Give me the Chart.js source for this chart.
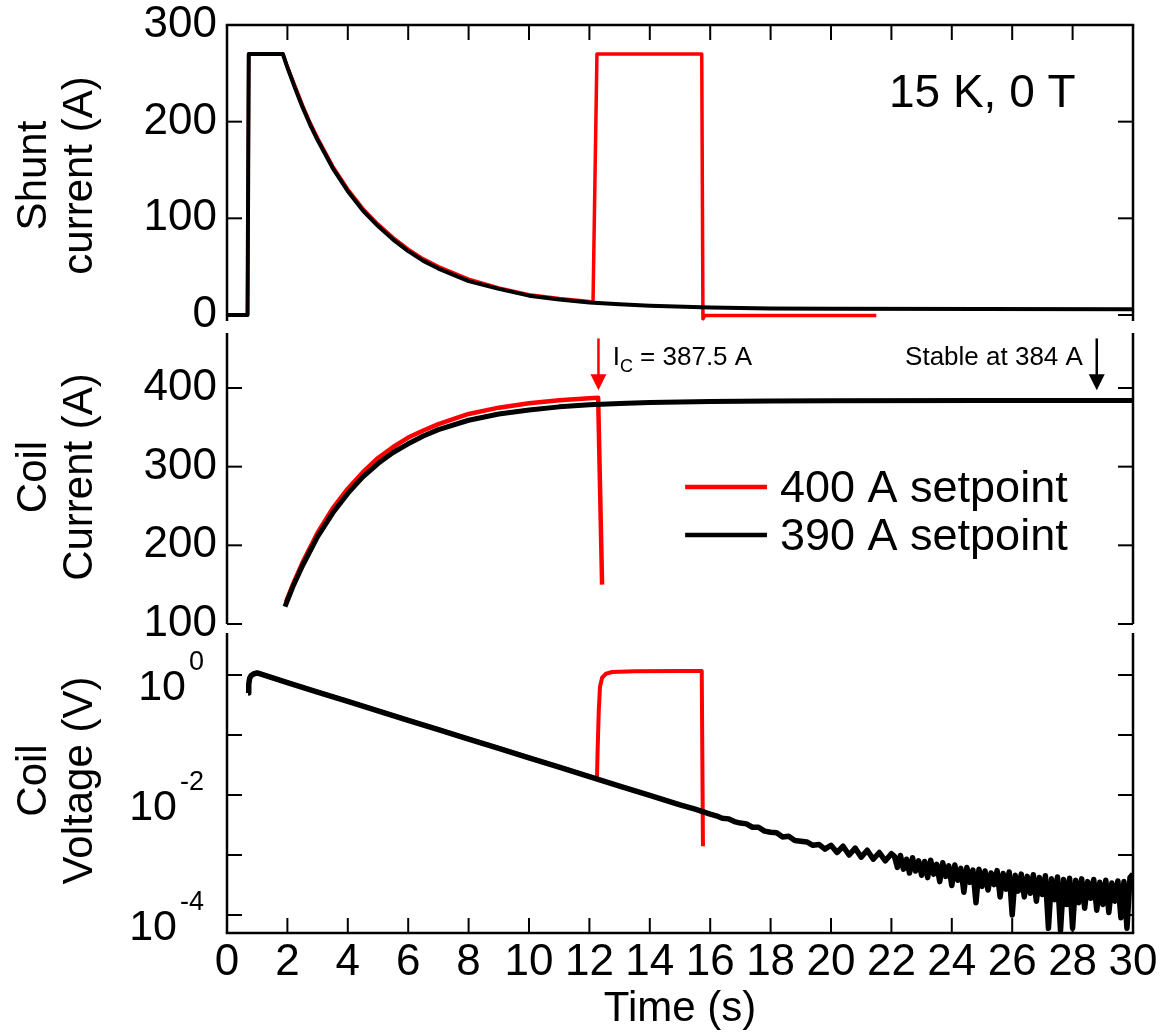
<!DOCTYPE html>
<html>
<head>
<meta charset="utf-8">
<script src="https://cdn.jsdelivr.net/npm/chart.js@4.4.1/dist/chart.umd.min.js"></script>
<style>
  html, body { margin: 0; padding: 0; background: #fff; }
  #wrap { position: relative; width: 1163px; height: 1036px; }
</style>
</head>
<body>
<div id="wrap"><canvas id="chart" width="1163" height="1036"></canvas></div>
<script>
// tick values
const xTicks = [0, 2, 4, 6, 8, 10, 12, 14, 16, 18, 20, 22, 24, 26, 28, 30];
const shuntTicks = [0, 100, 200, 300];
const coilTicks = [100, 150, 200, 250, 300, 350, 400, 450];
const coilMinor = [150, 250, 350, 450];
const voltTicks = [1e-4, 1e-3, 1e-2, 1e-1, 1];
const voltLabelValues = [1, 1e-2, 1e-4];
const voltLabelExps = ['0', '-2', '-4'];

// shunt current (A)
const shuntBlackT = [0, 0.68, 0.72, 1.85, 2.0, 2.25, 2.5, 2.75, 3.0, 3.5, 4.0, 4.5, 5.0, 5.5, 6.0, 6.5, 7.0, 8.0, 9.0, 10.0, 11.0, 12.0, 13.0, 14.0, 16.0, 18.0, 20.0, 25.0, 30.0];
const shuntBlackA = [0, 0, 270, 270, 256, 235, 215, 197, 181, 152, 128, 108, 92, 78, 66, 56, 48, 35, 27, 20, 16, 13, 11, 9.5, 7.7, 6.8, 6.4, 6.1, 6.0];
const shuntRedT = [0, 0.68, 0.72, 1.85, 2.0, 2.25, 2.5, 2.75, 3.0, 3.5, 4.0, 4.5, 5.0, 5.5, 6.0, 6.5, 7.0, 8.0, 9.0, 10.0, 11.0, 12.0, 12.12, 12.25, 15.72, 15.76, 15.82, 21.5];
const shuntRedA = [0, 0, 270, 270, 257, 237, 217, 199, 183, 154, 130, 110, 94, 80, 68, 58, 50, 37, 28, 21, 17, 14, 13, 270, 270, -4, -0.5, -0.5];

// coil current (A)
const coilBlackT = [1.92, 2.2, 2.5, 3.0, 3.5, 4.0, 4.5, 5.0, 5.5, 6.0, 6.5, 7.0, 8.0, 9.0, 10.0, 11.0, 12.0, 13.0, 14.0, 15.0, 16.0, 18.0, 20.0, 25.0, 30.0];
const coilBlackA = [122, 149, 174, 211, 241, 266, 287, 304, 318, 329, 339, 347, 359, 367, 372, 376, 378.6, 380.3, 381.5, 382.3, 382.9, 383.5, 383.8, 384, 384];
const coilRedT = [1.95, 2.2, 2.5, 3.0, 3.5, 4.0, 4.5, 5.0, 5.5, 6.0, 6.5, 7.0, 8.0, 9.0, 10.0, 11.0, 12.0, 12.29, 12.42];
const coilRedA = [128, 152, 178, 216, 247, 272, 293, 311, 325, 337, 346, 354, 367, 375, 380.5, 384.4, 387, 387.5, 150];

// coil voltage (V)
const voltBlackT = [0.70, 0.72, 0.75, 0.80, 0.90, 1.0, 2, 3, 4, 5, 6, 7, 8, 9, 10, 11, 12, 13, 14, 14.5, 15, 15.5,
  16.0, 16.2, 16.4, 16.6, 16.8, 17.0, 17.2, 17.4, 17.6, 17.8, 18.0, 18.2, 18.4, 18.6, 18.8, 19.0, 19.2, 19.4, 19.6, 19.8,
  20.0, 20.2, 20.4, 20.6, 20.8, 21.0, 21.2, 21.4, 21.6, 21.8, 22.0,
  22.1, 22.2, 22.3, 22.4, 22.5, 22.6, 22.7, 22.8, 22.9, 23.0, 23.1, 23.2, 23.3, 23.4, 23.5, 23.6, 23.7, 23.8, 23.9, 24.0,
  24.1, 24.2, 24.3, 24.4, 24.5, 24.6, 24.7, 24.8, 24.9, 25.0, 25.1, 25.2, 25.3, 25.4, 25.5, 25.6, 25.7, 25.8, 25.9, 26.0,
  26.1, 26.2, 26.3, 26.4, 26.5, 26.6, 26.7, 26.8, 26.9, 27.0, 27.1, 27.2, 27.3, 27.4, 27.5, 27.6, 27.7, 27.8, 27.9, 28.0,
  28.1, 28.2, 28.3, 28.4, 28.5, 28.6, 28.7, 28.8, 28.9, 29.0, 29.1, 29.2, 29.3, 29.4, 29.5, 29.6, 29.7, 29.8, 29.9, 30.0];
const voltBlackV = [0.5, 0.7, 0.88, 0.98, 1.05, 1.08, 0.745, 0.52, 0.362, 0.253, 0.176, 0.123, 0.0857, 0.0597, 0.0417, 0.029, 0.0202, 0.0141, 0.00984, 0.0082, 0.00687, 0.0058,
  4.8e-3, 4.5e-3, 4.1e-3, 4.0e-3, 3.6e-3, 3.4e-3, 3.3e-3, 2.9e-3, 2.9e-3, 2.5e-3, 2.4e-3, 2.35e-3, 2.0e-3, 2.05e-3, 1.75e-3, 1.7e-3, 1.65e-3, 1.45e-3, 1.5e-3, 1.25e-3,
  1.45e-3, 1.1e-3, 1.4e-3, 1.0e-3, 1.3e-3, 0.92e-3, 1.2e-3, 0.85e-3, 1.1e-3, 0.8e-3, 1.05e-3,
  9.5e-4, 6.2e-4, 9.8e-4, 5.8e-4, 8.5e-4, 5.0e-4, 9.0e-4, 5.4e-4, 8.0e-4, 4.6e-4, 7.8e-4, 4.2e-4, 8.2e-4, 4.8e-4, 7.0e-4, 3.6e-4, 7.4e-4, 4.4e-4, 6.6e-4, 3.1e-4,
  6.8e-4, 3.8e-4, 6.0e-4, 2.4e-4, 6.2e-4, 3.5e-4, 5.6e-4, 1.6e-4, 5.8e-4, 3.0e-4, 5.4e-4, 2.6e-4, 5.0e-4, 3.2e-4, 5.5e-4, 2.0e-4, 4.9e-4, 2.7e-4, 5.2e-4, 1.0e-4,
  4.6e-4, 2.5e-4, 4.8e-4, 2.0e-4, 4.4e-4, 2.3e-4, 4.7e-4, 1.7e-4, 4.2e-4, 2.2e-4, 4.5e-4, 6.0e-5, 4.0e-4, 1.8e-4, 4.3e-4, 5.5e-5, 3.9e-4, 1.5e-4, 4.1e-4, 6.0e-5,
  3.8e-4, 1.6e-4, 4.0e-4, 1.3e-4, 3.6e-4, 1.9e-4, 3.9e-4, 1.2e-4, 3.5e-4, 1.5e-4, 3.8e-4, 1.1e-4, 3.4e-4, 1.7e-4, 3.7e-4, 9.0e-5, 3.6e-4, 6.0e-5, 4.2e-4, 4.8e-4];
const voltRedT = [0.70, 0.72, 0.75, 0.80, 0.90, 1.0, 2, 4, 6, 8, 10, 12, 12.25, 12.27, 12.31, 12.35, 12.42, 12.55, 12.75, 13.5, 15.0, 15.72, 15.76];
const voltRedV = [0.5, 0.72, 0.9, 1.0, 1.07, 1.09, 0.752, 0.366, 0.178, 0.0866, 0.0421, 0.0204, 0.0186, 0.05, 0.25, 0.63, 0.9, 1.05, 1.12, 1.15, 1.16, 1.17, 0.0014];

const FONT = "'Liberation Sans', Arial, Helvetica, sans-serif";
Chart.defaults.font.family = FONT;
Chart.defaults.color = '#000';

const RED = '#ff0000';
const BLACK = '#000000';

const pts = (t, v) => t.map((x, i) => ({ x: x, y: v[i] }));

function lineSet(label, t, v, color, axis, width) {
  return {
    label: label,
    data: pts(t, v),
    yAxisID: axis,
    borderColor: color,
    backgroundColor: color,
    borderWidth: width,
    borderJoinStyle: 'round',
    pointRadius: 0,
    tension: 0,
    fill: false
  };
}

function setTicks(list) {
  return function(scale) {
    scale.ticks = list.map(v => ({ value: v }));
  };
}

function leftFit(scale) {
  scale.width = 227;
  scale.paddingTop = 0;
  scale.paddingBottom = 0;
}

const titleFont = { size: 42, lineHeight: 1.08 };
const tickFont = { size: 44, lineHeight: 1.0 };

// panel frame pieces: which scale, gaps at the panel joins
const panels = [
  { id: 'yS', gapTop: 0, gapBottom: 5, minor: [] },
  { id: 'yC', gapTop: 7, gapBottom: 4, minor: coilMinor },
  { id: 'yV', gapTop: 5, gapBottom: 0, minor: [] }
];

const framePlugin = {
  id: 'frame',
  afterDatasetsDraw(chart) {
    const { ctx, chartArea: a, scales } = chart;
    const sx = scales.x;
    ctx.save();
    ctx.strokeStyle = '#000';
    ctx.lineCap = 'butt';
    const seg = (x1, y1, x2, y2, w) => {
      ctx.lineWidth = w;
      ctx.beginPath();
      ctx.moveTo(x1, y1);
      ctx.lineTo(x2, y2);
      ctx.stroke();
    };
    seg(a.left - 1.25, a.top, a.right + 1.25, a.top, 2.5);
    seg(a.left - 1.25, a.bottom, a.right + 1.25, a.bottom, 2.5);
    xTicks.forEach(v => {
      const px = sx.getPixelForValue(v);
      seg(px, a.top, px, a.top + 15, 2);
      seg(px, a.bottom, px, a.bottom - 15, 2);
    });
    panels.forEach(p => {
      const s = scales[p.id];
      const y1 = s.top + p.gapTop, y2 = s.bottom - p.gapBottom;
      seg(a.left, y1, a.left, y2, 2.5);
      seg(a.right, y1, a.right, y2, 2.5);
      s.ticks.forEach(t => {
        const py = s.getPixelForValue(t.value);
        const len = p.minor.includes(t.value) ? 8 : 15;
        seg(a.left, py, a.left + len, py, 2);
        seg(a.right, py, a.right - len, py, 2);
      });
    });

    // log axis labels with superscript
    const sV = scales.yV;
    ctx.fillStyle = '#000';
    ctx.textBaseline = 'alphabetic';
    voltLabelValues.forEach((v, i) => {
      const py = sV.getPixelForValue(v);
      ctx.font = `27px ${FONT}`;
      ctx.textAlign = 'right';
      const ew = ctx.measureText(voltLabelExps[i]).width;
      ctx.fillText(voltLabelExps[i], a.left - 23, py - 5);
      ctx.font = `43px ${FONT}`;
      ctx.fillText('10', a.left - 23 - ew - 3, py + 25);
    });

    // arrows
    const sC = scales.yC;
    const arrow = (t, top, tip, color) => {
      const px = sx.getPixelForValue(t);
      const y1 = sC.getPixelForValue(top), y2 = sC.getPixelForValue(tip);
      ctx.strokeStyle = color;
      ctx.fillStyle = color;
      seg(px, y1, px, y2 - 14, 2.5);
      ctx.beginPath();
      ctx.moveTo(px - 8, y2 - 16);
      ctx.lineTo(px + 8, y2 - 16);
      ctx.lineTo(px, y2);
      ctx.closePath();
      ctx.fill();
    };
    arrow(12.3, 463, 397, RED);
    arrow(28.8, 463, 397, BLACK);

    ctx.fillStyle = '#000';
    ctx.textAlign = 'left';
    let tx = sx.getPixelForValue(12.77);
    const ty = sC.getPixelForValue(429);
    ctx.font = `26px ${FONT}`;
    ctx.fillText('I', tx, ty);
    tx += ctx.measureText('I').width;
    ctx.font = `18px ${FONT}`;
    ctx.fillText('C', tx, ty + 7);
    tx += ctx.measureText('C').width;
    ctx.font = `26px ${FONT}`;
    ctx.fillText(' = 387.5 A', tx, ty);
    ctx.textAlign = 'right';
    ctx.fillText('Stable at 384 A', sx.getPixelForValue(28.34), ty);

    // panel note
    ctx.font = `46px ${FONT}`;
    ctx.fillText('15 K, 0 T', sx.getPixelForValue(28.1), scales.yS.getPixelForValue(215));

    // legend
    const items = [
      { text: '400 A setpoint', color: RED, y: 274 },
      { text: '390 A setpoint', color: BLACK, y: 213 }
    ];
    ctx.textAlign = 'left';
    ctx.textBaseline = 'middle';
    items.forEach(it => {
      const py = sC.getPixelForValue(it.y);
      ctx.strokeStyle = it.color;
      seg(sx.getPixelForValue(15.17), py, sx.getPixelForValue(17.88), py, 4.5);
      ctx.fillStyle = '#000';
      ctx.font = `45px ${FONT}`;
      ctx.fillText(it.text, sx.getPixelForValue(18.31), py + 2);
    });
    ctx.restore();
  }
};

new Chart(document.getElementById('chart'), {
  type: 'line',
  data: {
    datasets: [
      lineSet('390 A setpoint', shuntBlackT, shuntBlackA, BLACK, 'yS', 4),
      lineSet('390 A setpoint', coilBlackT, coilBlackA, BLACK, 'yC', 5),
      lineSet('390 A setpoint', voltBlackT, voltBlackV, BLACK, 'yV', 5.5),
      lineSet('400 A setpoint', shuntRedT, shuntRedA, RED, 'yS', 3.5),
      lineSet('400 A setpoint', coilRedT, coilRedA, RED, 'yC', 4.5),
      lineSet('400 A setpoint', voltRedT, voltRedV, RED, 'yV', 4)
    ]
  },
  options: {
    responsive: false,
    animation: false,
    layout: { padding: { top: 25, right: 30, bottom: 0, left: 0 } },
    plugins: { legend: { display: false }, tooltip: { enabled: false } },
    scales: {
      x: {
        type: 'linear',
        position: 'bottom',
        min: 0,
        max: 30,
        afterBuildTicks: setTicks(xTicks),
        afterFit: s => { s.height = 103; s.paddingLeft = 0; s.paddingRight = 0; },
        grid: { display: false, drawTicks: false },
        border: { display: false },
        ticks: { font: tickFont, color: '#000', padding: 8, autoSkip: false, maxRotation: 0 },
        title: { display: true, text: 'Time (s)', font: { size: 42, lineHeight: 1.1 }, color: '#000', padding: { top: 0, bottom: 3 } }
      },
      yS: {
        type: 'linear',
        position: 'left',
        stack: 'panels',
        stackWeight: 301,
        weight: 3,
        min: -11.4,
        max: 300,
        afterBuildTicks: setTicks(shuntTicks),
        afterFit: leftFit,
        grid: { display: false, drawTicks: false },
        border: { display: false },
        ticks: { font: tickFont, color: '#000', padding: 10 },
        title: { display: true, text: ['Shunt', 'current (A)'], font: titleFont, color: '#000', padding: { top: 12, bottom: 0 } }
      },
      yC: {
        type: 'linear',
        position: 'left',
        stack: 'panels',
        stackWeight: 302,
        weight: 2,
        min: 94.9,
        max: 478.8,
        afterBuildTicks: setTicks(coilTicks),
        afterFit: leftFit,
        grid: { display: false, drawTicks: false },
        border: { display: false },
        ticks: { font: tickFont, color: '#000', padding: 10, callback: v => (v % 100 === 0 ? String(v) : '') },
        title: { display: true, text: ['Coil', 'Current (A)'], font: titleFont, color: '#000', padding: { top: 12, bottom: 0 } }
      },
      yV: {
        type: 'logarithmic',
        position: 'left',
        stack: 'panels',
        stackWeight: 305,
        weight: 1,
        min: 5.01e-5,
        max: 6.07,
        afterBuildTicks: setTicks(voltTicks),
        afterFit: leftFit,
        grid: { display: false, drawTicks: false },
        border: { display: false },
        ticks: { display: false },
        title: { display: true, text: ['Coil', 'Voltage (V)'], font: titleFont, color: '#000', padding: { top: 12, bottom: 0 } }
      }
    }
  },
  plugins: [framePlugin]
});
</script>
</body>
</html>
